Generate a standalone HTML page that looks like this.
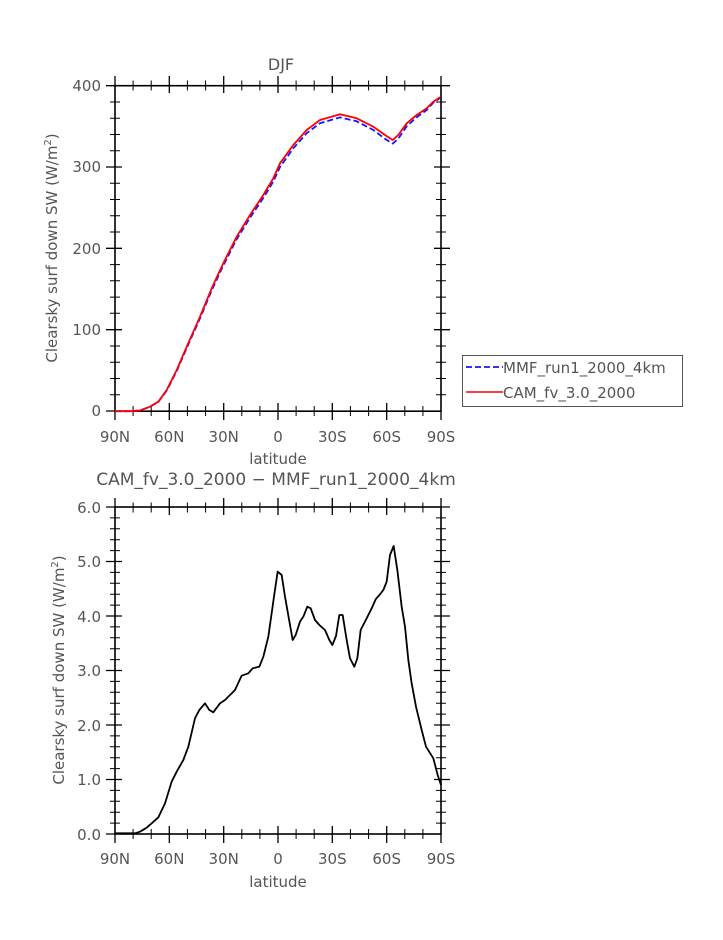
<!DOCTYPE html>
<html><head><meta charset="utf-8"><style>
html,body{margin:0;padding:0;background:#fff;}
svg text{font-family:"DejaVu Sans","Liberation Sans",sans-serif;fill:#555;}
</style></head><body>
<svg width="723" height="935" viewBox="0 0 723 935" xmlns="http://www.w3.org/2000/svg">
<!-- ===== TOP PLOT ===== -->
<text x="281" y="70" font-size="16" text-anchor="middle">DJF</text>
<rect x="115" y="85.7" width="326" height="325.5" fill="none" stroke="#000" stroke-width="1.6"/>
<g stroke="#000" stroke-width="1.3">
<path d="M115,76V85.7M169.3,76V93M223.7,76V93M278,76V93M332.3,76V93M386.7,76V93M441,76V85.7
M115,420V411M169.3,420V403M223.7,420V403M278,420V403M332.3,420V403M386.7,420V403M441,420V411"/>
<path stroke-width="1" d="M133.1,80.5V90.5M151.2,80.5V90.5M187.4,80.5V90.5M205.6,80.5V90.5M241.8,80.5V90.5M259.9,80.5V90.5M296.1,80.5V90.5M314.2,80.5V90.5M350.4,80.5V90.5M368.6,80.5V90.5M404.8,80.5V90.5M422.9,80.5V90.5
M133.1,416V406M151.2,416V406M187.4,416V406M205.6,416V406M241.8,416V406M259.9,416V406M296.1,416V406M314.2,416V406M350.4,416V406M368.6,416V406M404.8,416V406M422.9,416V406"/>
<path d="M106,85.7H122M106,167H122M106,248.3H122M106,329.7H122M106,411H115M450,85.7H434M450,167H434M450,248.3H434M450,329.7H434"/>
<path stroke-width="1" d="M110,102H120M110,118.2H120M110,134.5H120M110,150.7H120M110,183.3H120M110,199.5H120M110,215.8H120M110,232H120M110,264.6H120M110,280.8H120M110,297.1H120M110,313.3H120M110,346H120M110,362.2H120M110,378.5H120M110,394.7H120
M446,102H436M446,118.2H436M446,134.5H436M446,150.7H436M446,183.3H436M446,199.5H436M446,215.8H436M446,232H436M446,264.6H436M446,280.8H436M446,297.1H436M446,313.3H436M446,346H436M446,362.2H436M446,378.5H436M446,394.7H436"/>
</g>
<g font-size="15" text-anchor="end">
<text x="101" y="91">400</text><text x="101" y="172">300</text><text x="101" y="254">200</text><text x="101" y="335">100</text><text x="101" y="416">0</text>
</g>
<g font-size="15" text-anchor="middle">
<text x="115" y="442">90N</text><text x="169.3" y="442">60N</text><text x="223.7" y="442">30N</text><text x="278" y="442">0</text><text x="332.3" y="442">30S</text><text x="386.7" y="442">60S</text><text x="441" y="442">90S</text>
</g>
<text x="278" y="464" font-size="15" text-anchor="middle">latitude</text>
<text transform="translate(57,248) rotate(-90)" font-size="15" text-anchor="middle">Clearsky surf down SW (W/m<tspan font-size="10" dy="-6">2</tspan><tspan dy="6">)</tspan></text>
<polyline fill="none" stroke="#1515ff" stroke-width="1.8" stroke-dasharray="6,3" stroke-linejoin="round" points="115,411.2 130,411.2 140,410.5 150,406.7 158.3,402 166.7,390.6 176.7,371 186.7,348 200,318.3 211.7,290.3 223.3,265.5 236.7,239.2 250,217.8 263.3,198 273.3,181.6 280,167 293.3,148.3 306.7,133.2 320,123.2 340,117.4 356.7,121.3 373.3,130 385,138.8 392.7,143.6 398.3,138.6 406.7,126.3 416.7,117.3 426.7,110 433.3,102.7 440,98"/>
<polyline fill="none" stroke="#ff0000" stroke-width="1.8" stroke-linejoin="round" points="115,411.2 130,411.2 140,410.5 150,406.7 158.3,401.7 166.7,390 176.7,370 186.7,346.7 200,316.7 211.7,288.3 223.3,263.3 236.7,236.7 250,215 263.3,195 273.3,178.3 280,163.3 293.3,145 306.7,130 320,120 340,114.3 356.7,118.3 373.3,126.7 385,135 392.7,140 398.3,135 406.7,123.3 416.7,115 426.7,108.3 433.3,101.7 440,97.3"/>
<!-- legend -->
<rect x="462.5" y="355.5" width="220" height="51" fill="#fff" stroke="#555" stroke-width="1"/>
<line x1="466" y1="367" x2="503" y2="367" stroke="#1515ff" stroke-width="1.8" stroke-dasharray="6,3"/>
<line x1="466" y1="392" x2="503" y2="392" stroke="#ff0000" stroke-width="1.5"/>
<text x="503" y="373" font-size="15">MMF_run1_2000_4km</text>
<text x="503" y="398" font-size="15">CAM_fv_3.0_2000</text>
<!-- ===== BOTTOM PLOT ===== -->
<text x="276" y="485" font-size="17" text-anchor="middle">CAM_fv_3.0_2000 − MMF_run1_2000_4km</text>
<rect x="115" y="507" width="326" height="327" fill="none" stroke="#000" stroke-width="1.6"/>
<g stroke="#000" stroke-width="1.3">
<path d="M115,498V507M169.3,498V515M223.7,498V515M278,498V515M332.3,498V515M386.7,498V515M441,498V507
M115,843V834M169.3,843V826M223.7,843V826M278,843V826M332.3,843V826M386.7,843V826M441,843V834"/>
<path stroke-width="1" d="M133.1,502.5V512.5M151.2,502.5V512.5M187.4,502.5V512.5M205.6,502.5V512.5M241.8,502.5V512.5M259.9,502.5V512.5M296.1,502.5V512.5M314.2,502.5V512.5M350.4,502.5V512.5M368.6,502.5V512.5M404.8,502.5V512.5M422.9,502.5V512.5
M133.1,839V829M151.2,839V829M187.4,839V829M205.6,839V829M241.8,839V829M259.9,839V829M296.1,839V829M314.2,839V829M350.4,839V829M368.6,839V829M404.8,839V829M422.9,839V829"/>
<path d="M106,507H115M106,561.5H122M106,616H122M106,670.5H122M106,725H122M106,779.5H122M106,834H115M450,507H441M450,561.5H434M450,616H434M450,670.5H434M450,725H434M450,779.5H434"/>
<path stroke-width="1" d="M110,517.9H120M110,528.8H120M110,539.7H120M110,550.6H120M110,572.4H120M110,583.3H120M110,594.2H120M110,605.1H120M110,626.9H120M110,637.8H120M110,648.7H120M110,659.6H120M110,681.4H120M110,692.3H120M110,703.2H120M110,714.1H120M110,735.9H120M110,746.8H120M110,757.7H120M110,768.6H120M110,790.4H120M110,801.3H120M110,812.2H120M110,823.1H120
M446,517.9H436M446,528.8H436M446,539.7H436M446,550.6H436M446,572.4H436M446,583.3H436M446,594.2H436M446,605.1H436M446,626.9H436M446,637.8H436M446,648.7H436M446,659.6H436M446,681.4H436M446,692.3H436M446,703.2H436M446,714.1H436M446,735.9H436M446,746.8H436M446,757.7H436M446,768.6H436M446,790.4H436M446,801.3H436M446,812.2H436M446,823.1H436"/>
</g>
<g font-size="15" text-anchor="end">
<text x="101" y="513">6.0</text><text x="101" y="567">5.0</text><text x="101" y="622">4.0</text><text x="101" y="676">3.0</text><text x="101" y="731">2.0</text><text x="101" y="785">1.0</text><text x="101" y="840">0.0</text>
</g>
<g font-size="15" text-anchor="middle">
<text x="115" y="864">90N</text><text x="169.3" y="864">60N</text><text x="223.7" y="864">30N</text><text x="278" y="864">0</text><text x="332.3" y="864">30S</text><text x="386.7" y="864">60S</text><text x="441" y="864">90S</text>
</g>
<text x="278" y="887" font-size="15" text-anchor="middle">latitude</text>
<text transform="translate(64,670) rotate(-90)" font-size="15" text-anchor="middle">Clearsky surf down SW (W/m<tspan font-size="10" dy="-6">2</tspan><tspan dy="6">)</tspan></text>
<g transform="translate(110,530) scale(0.3333333)">
<polyline fill="none" stroke="#000" stroke-width="5.4" stroke-linejoin="round" points="15,910 75,910 90,905 110,893 125,880 145,862 165,820 185,755 200,725 220,690 235,650 255,565 268,540 285,520 298,540 310,547 330,520 345,510 375,480 395,437 415,430 428,415 448,410 460,380 475,320 492,200 503,125 515,135 525,200 548,330 557,315 570,275 580,260 592,230 602,235 615,270 628,285 645,300 658,330 667,345 678,318 688,255 698,255 710,330 720,385 733,410 742,385 752,300 770,265 785,235 797,208 810,193 820,180 830,155 840,75 851,48 862,120 875,230 885,290 895,390 905,460 918,530 935,600 948,650 970,685 983,735 993,765"/>
</g>
</svg>
</body></html>
